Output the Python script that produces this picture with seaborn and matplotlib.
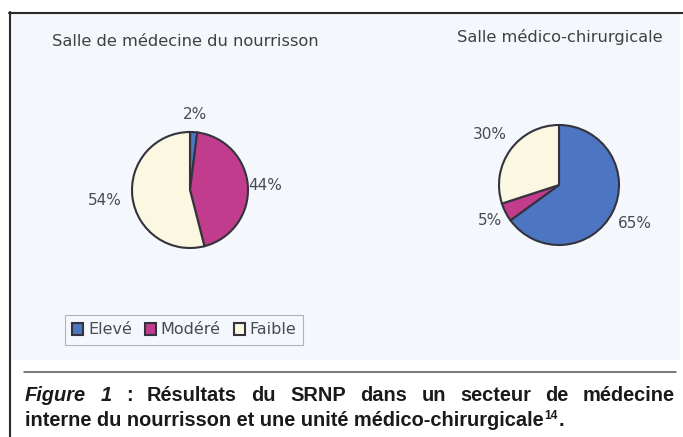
import numpy as np
import matplotlib
matplotlib.use("Agg")
import matplotlib.pyplot as plt
from matplotlib.lines import Line2D
from matplotlib.patches import Rectangle
from matplotlib.transforms import IdentityTransform
import seaborn as sns

# ---- data ----
categories = ["Elevé", "Modéré", "Faible"]
left_title = "Salle de médecine du nourrisson"
right_title = "Salle médico-chirurgicale"
left_values = [2, 44, 54]
right_values = [65, 5, 30]
left_labels = ["2%", "44%", "54%"]
right_labels = ["65%", "5%", "30%"]
caption_l1 = ["Résultats", "du", "SRNP", "dans", "un", "secteur", "de", "médecine"]
caption_l2 = "interne du nourrisson et une unité médico-chirurgicale"

sns.set_style("white")
plt.rcParams["font.family"] = ["DejaVu Sans"]
colors = sns.color_palette(["#4c76c2", "#c23c8e", "#fcf7e0"])

W, H = 683, 437
fig = plt.figure(figsize=(W / 100, H / 100), dpi=100)
fig.patch.set_facecolor("white")

def fx(x):
    return x / W

def fy(y):
    return 1 - y / H

# panel background (image area)
fig.patches.append(Rectangle((fx(10), fy(360)), 670 / W, 346 / H,
                             transform=fig.transFigure, facecolor="#f4f7fb",
                             edgecolor="none", zorder=-5))

def draw_pie(cx, cy, r, values, labels, dists, title, tx, ty):
    half = 120
    ax = fig.add_axes([fx(cx - half), fy(cy + half), 2 * half / W, 2 * half / H])
    ax.set_zorder(2)
    ax.patch.set_alpha(0)
    wedges, _ = ax.pie(values, colors=colors, startangle=90, counterclock=False,
                       wedgeprops=dict(edgecolor="#33333d", linewidth=1.5))
    lim = half / r
    ax.set_xlim(-lim, lim)
    ax.set_ylim(-lim, lim)
    ax.set_aspect("auto")
    ax.axis("off")
    for w, lab, d in zip(wedges, labels, dists):
        ang = np.deg2rad((w.theta1 + w.theta2) / 2)
        ax.text(d * np.cos(ang), d * np.sin(ang), lab, ha="center", va="center",
                fontsize=11, color="#4a4a55")
    fig.text(fx(tx), fy(ty), title, ha="left", va="center", fontsize=11.7,
             color="#404044")
    return wedges

wl = draw_pie(190, 190, 58, left_values, left_labels, [1.3, 1.3, 1.48],
              left_title, 52, 42)
wr = draw_pie(559, 185, 60, right_values, right_labels, [1.42, 1.3, 1.42],
              right_title, 457, 37)

leg = fig.legend(wl, categories, loc="center left",
                 bbox_to_anchor=(fx(65), fy(330)), ncol=3, frameon=True,
                 fancybox=False, edgecolor="#a0a0a8", facecolor="#f4f7fb",
                 fontsize=11.5, handlelength=0.7, handleheight=0.7,
                 handletextpad=0.3, columnspacing=0.8, borderpad=0.45,
                 borderaxespad=0)
for t in leg.get_texts():
    t.set_color("#4a4a55")
leg.get_frame().set_linewidth(0.8)

# frame lines
fig.add_artist(Line2D([fx(9.5), fx(9.5)], [fy(12), fy(437)], color="#2a2a2a", lw=1.5))
fig.add_artist(Line2D([fx(8.5), fx(683)], [fy(12.5), fy(12.5)], color="#2a2a2a", lw=1.5))
fig.add_artist(Line2D([fx(24), fx(676)], [fy(372), fy(372)], color="#555555", lw=1.1))

# caption
cap_font = ["Liberation Sans", "DejaVu Sans"]
cap_size = 14.4
renderer = fig.canvas.get_renderer()

def mk(x, y, s, style="normal", size=cap_size, va="baseline"):
    return fig.text(x, H - y, s, transform=IdentityTransform(), family=cap_font,
                    fontsize=size, fontweight="bold", style=style, color="#1a1a1a",
                    ha="left", va=va)

def width(t):
    return t.get_window_extent(renderer).width

# line 1, justified from x=25 to x=675
base1, base2 = 401, 426
words1 = [("Figure", "italic"), ("1", "italic"), (":", "normal")] + [(w, "normal") for w in caption_l1]
texts = [mk(0, base1, w, st) for w, st in words1]
ws = [width(t) for t in texts]
gap = (650 - sum(ws)) / (len(ws) - 1)
x = 25
for t, w in zip(texts, ws):
    t.set_x(x)
    x += w + gap

# line 2, natural spacing
t2 = mk(25, base2, caption_l2)
x = 25 + width(t2)
sup = mk(x + 1, base2 - 7, "14", size=cap_size * 0.6)
x += width(sup) + 1.5
mk(x, base2, ".")

fig.savefig("out.png", dpi=100)
